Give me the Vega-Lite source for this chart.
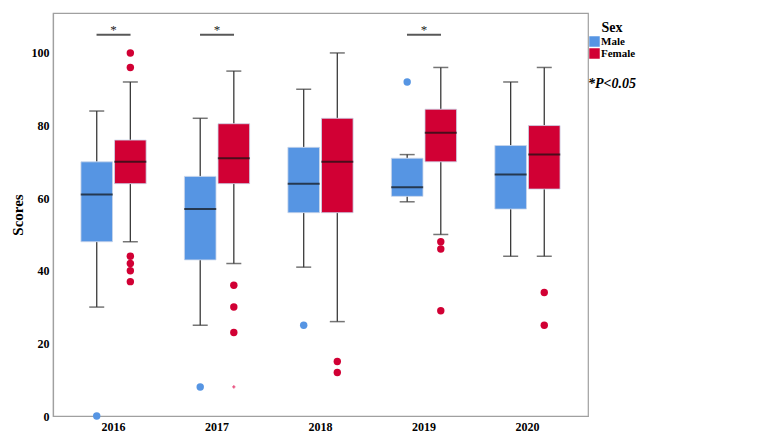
{
  "$schema": "https://vega.github.io/schema/vega-lite/v6.json",
  "autosize": "none",
  "width": 535,
  "height": 403,
  "padding": {"left": 53, "top": 13, "right": 196, "bottom": 24},
  "background": "white",
  "datasets": {
    "boxes": [
      {"year": "2016", "sex": "Male", "low": 30, "q1": 48, "median": 61, "q3": 70, "high": 84},
      {"year": "2016", "sex": "Female", "low": 48, "q1": 64, "median": 70, "q3": 76, "high": 92},
      {"year": "2017", "sex": "Male", "low": 25, "q1": 43, "median": 57, "q3": 66, "high": 82},
      {"year": "2017", "sex": "Female", "low": 42, "q1": 64, "median": 71, "q3": 80.5, "high": 95},
      {"year": "2018", "sex": "Male", "low": 41, "q1": 56, "median": 64, "q3": 74, "high": 90},
      {"year": "2018", "sex": "Female", "low": 26, "q1": 56, "median": 70, "q3": 82, "high": 100},
      {"year": "2019", "sex": "Male", "low": 59, "q1": 60.5, "median": 63, "q3": 71, "high": 72},
      {"year": "2019", "sex": "Female", "low": 50, "q1": 70, "median": 78, "q3": 84.5, "high": 96},
      {"year": "2020", "sex": "Male", "low": 44, "q1": 57, "median": 66.5, "q3": 74.5, "high": 92},
      {"year": "2020", "sex": "Female", "low": 44, "q1": 62.5, "median": 72, "q3": 80, "high": 96}
    ],
    "outliers": [
      {"year": "2016", "sex": "Male", "value": 0},
      {"year": "2016", "sex": "Female", "value": 100},
      {"year": "2016", "sex": "Female", "value": 96},
      {"year": "2016", "sex": "Female", "value": 44},
      {"year": "2016", "sex": "Female", "value": 42},
      {"year": "2016", "sex": "Female", "value": 40},
      {"year": "2016", "sex": "Female", "value": 37},
      {"year": "2017", "sex": "Male", "value": 8},
      {"year": "2017", "sex": "Female", "value": 36},
      {"year": "2017", "sex": "Female", "value": 30},
      {"year": "2017", "sex": "Female", "value": 23},
      {"year": "2018", "sex": "Male", "value": 25},
      {"year": "2018", "sex": "Female", "value": 15},
      {"year": "2018", "sex": "Female", "value": 12},
      {"year": "2019", "sex": "Male", "value": 92},
      {"year": "2019", "sex": "Female", "value": 48},
      {"year": "2019", "sex": "Female", "value": 46},
      {"year": "2019", "sex": "Female", "value": 29},
      {"year": "2020", "sex": "Female", "value": 34},
      {"year": "2020", "sex": "Female", "value": 25}
    ],
    "extremes": [
      {"year": "2017", "sex": "Female", "value": 8}
    ],
    "sig": [
      {"year": "2016", "value": 105, "note": "*P<0.05"},
      {"year": "2017", "value": 105, "note": "*P<0.05"},
      {"year": "2019", "value": 105, "note": "*P<0.05"}
    ]
  },
  "encoding": {
    "x": {
      "field": "year", "type": "nominal",
      "scale": {"domain": ["2016", "2017", "2018", "2019", "2020"], "paddingInner": 0.37, "paddingOuter": 0.27},
      "axis": {"title": null, "labelAngle": 0}
    }
  },
  "layer": [
    {
      "data": {"name": "boxes"},
      "mark": {"type": "rule", "color": "#3a3a3a", "strokeWidth": 1.3},
      "encoding": {
        "xOffset": {"field": "sex", "type": "nominal", "scale": {"domain": ["Male", "Female"], "paddingInner": 0.06, "paddingOuter": 0}},
        "y": {"field": "low", "type": "quantitative", "scale": {"domain": [0, 111], "nice": false}, "axis": {"title": "Scores", "values": [0, 20, 40, 60, 80, 100]}},
        "y2": {"field": "q1"}
      }
    },
    {
      "data": {"name": "boxes"},
      "mark": {"type": "rule", "color": "#3a3a3a", "strokeWidth": 1.3},
      "encoding": {
        "xOffset": {"field": "sex", "type": "nominal"},
        "y": {"field": "q3", "type": "quantitative"},
        "y2": {"field": "high"}
      }
    },
    {
      "data": {"name": "boxes"},
      "mark": {"type": "bar", "stroke": "#c9d6ea", "strokeWidth": 0.8},
      "encoding": {
        "xOffset": {"field": "sex", "type": "nominal"},
        "y": {"field": "q1", "type": "quantitative"},
        "y2": {"field": "q3"},
        "color": {
          "field": "sex", "type": "nominal",
          "scale": {"domain": ["Male", "Female"], "range": ["#5695E3", "#D10034"]},
          "legend": {"title": "Sex", "orient": "right", "symbolType": "square", "symbolSize": 110, "symbolStrokeWidth": 0, "labelFontSize": 11, "titleFontSize": 14, "rowPadding": 0, "labelOffset": 1, "titlePadding": 1, "padding": 8, "offset": -7, "titleAnchor": "middle", "symbolOpacity": 1}
        }
      }
    },
    {
      "data": {"name": "boxes"},
      "mark": {"type": "tick", "color": "#111111", "size": 32, "thickness": 2},
      "encoding": {
        "xOffset": {"field": "sex", "type": "nominal"},
        "y": {"field": "median", "type": "quantitative"}
      }
    },
    {
      "data": {"name": "boxes"},
      "mark": {"type": "tick", "color": "#3a3a3a", "size": 15, "thickness": 1.5},
      "encoding": {
        "xOffset": {"field": "sex", "type": "nominal"},
        "y": {"field": "low", "type": "quantitative"}
      }
    },
    {
      "data": {"name": "boxes"},
      "mark": {"type": "tick", "color": "#3a3a3a", "size": 15, "thickness": 1.5},
      "encoding": {
        "xOffset": {"field": "sex", "type": "nominal"},
        "y": {"field": "high", "type": "quantitative"}
      }
    },
    {
      "data": {"name": "outliers"},
      "mark": {"type": "circle", "size": 55, "opacity": 1},
      "encoding": {
        "xOffset": {"field": "sex", "type": "nominal"},
        "y": {"field": "value", "type": "quantitative"},
        "color": {"field": "sex", "type": "nominal"}
      }
    },
    {
      "data": {"name": "extremes"},
      "mark": {"type": "point", "shape": "cross", "size": 10, "filled": true, "color": "#E8507F", "opacity": 1},
      "encoding": {
        "xOffset": {"field": "sex", "type": "nominal"},
        "y": {"field": "value", "type": "quantitative"}
      }
    },
    {
      "data": {"name": "sig"},
      "mark": {"type": "tick", "color": "#111111", "size": 34, "thickness": 2},
      "encoding": {
        "y": {"field": "value", "type": "quantitative"}
      }
    },
    {
      "data": {"name": "sig"},
      "mark": {"type": "text", "text": "*", "font": "Liberation Serif", "fontSize": 13, "baseline": "bottom", "dy": 2, "color": "#222222"},
      "encoding": {
        "y": {"field": "value", "type": "quantitative"},
        "opacity": {
          "field": "note", "type": "nominal",
          "scale": {"domain": ["*P<0.05"], "range": [1]},
          "legend": {"title": null, "orient": "right", "symbolType": "circle", "symbolSize": 0, "symbolOpacity": 0, "symbolStrokeWidth": 0, "labelFontSize": 14, "labelFontStyle": "italic", "labelOffset": -9, "padding": 2, "offset": -11}
        }
      }
    }
  ],
  "config": {
    "font": "Liberation Serif",
    "view": {"stroke": "#a0a0a0", "strokeWidth": 1.2},
    "axis": {
      "labelFont": "Liberation Serif", "labelFontWeight": "bold", "labelFontSize": 12, "labelColor": "#000000",
      "titleFont": "Liberation Serif", "titleFontWeight": "bold", "titleFontSize": 15, "titleColor": "#000000",
      "ticks": false, "grid": false, "domainColor": "#a0a0a0", "domainWidth": 1.2, "labelPadding": 4
    },
    "axisY": {"titlePadding": 6},
    "axisX": {"labelPadding": 5},
    "legend": {
      "labelFont": "Liberation Serif", "labelFontWeight": "bold", "labelColor": "#000000",
      "titleFont": "Liberation Serif", "titleFontWeight": "bold", "titleColor": "#000000",
      "rowPadding": 2
    }
  }
}
